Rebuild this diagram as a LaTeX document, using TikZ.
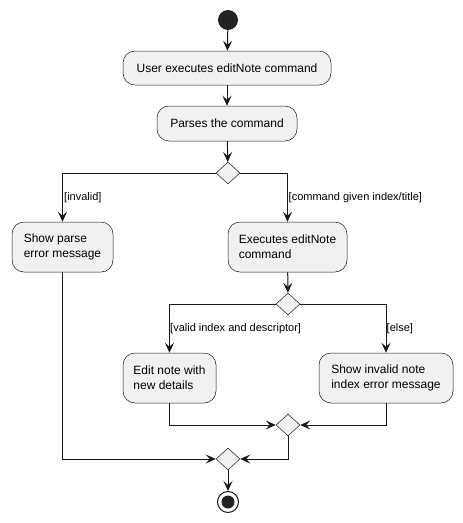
\documentclass[tikz,border=0pt]{standalone}
\usepackage{fontspec}
\setmainfont{Liberation Sans}
\usetikzlibrary{arrows.meta,shapes.geometric}
\definecolor{boxfill}{HTML}{F1F1F1}
\definecolor{ink}{HTML}{181818}
\definecolor{dot}{HTML}{222222}
\begin{document}
\begin{tikzpicture}[x=1pt,y=-1pt,
  act/.style={draw=ink,line width=0.5pt,fill=boxfill,rounded corners=12pt,align=left,
    inner sep=0pt,font=\fontsize{12}{15}\selectfont,text=black},
  dec/.style={draw=ink,line width=0.5pt,fill=boxfill,diamond,minimum width=24pt,minimum height=22pt,inner sep=0pt},
  flow/.style={draw=ink,line width=1pt,-{Stealth[length=10pt,width=9pt,inset=4pt]}},
  guard/.style={anchor=west,font=\fontsize{11}{13}\selectfont,inner sep=0pt,text=black}]
\useasboundingbox (0,0) rectangle (463,523);
\node[circle,fill=dot,minimum size=20pt,inner sep=0pt] (start) at (228,20) {};
\node[act,minimum width=208pt,minimum height=34pt] (user) at (227,68) {User executes editNote command};
\node[act,minimum width=140pt,minimum height=35pt] (parses) at (227,123.5) {Parses the command};
\node[dec] (d1) at (228,173) {};
\node[act,minimum width=101pt,minimum height=50pt] (showparse) at (62.5,247) {Show parse\\error message};
\node[act,minimum width=119pt,minimum height=50pt] (exec) at (287.5,247) {Executes editNote\\command};
\node[dec] (d2) at (288,304) {};
\node[act,minimum width=93pt,minimum height=50pt] (edit) at (169.5,378) {Edit note with\\new details};
\node[act,minimum width=134pt,minimum height=50pt] (inval) at (386,378) {Show invalid note\\index error message};
\node[dec] (m1) at (288,425) {};
\node[dec] (m2) at (228,459) {};
\node[circle,draw=ink,line width=1pt,fill=white,minimum size=21pt,inner sep=0pt] (end) at (228,502) {};
\node[circle,fill=dot,minimum size=13pt,inner sep=0pt] (enddot) at (end.center) {};

\node[guard] (ginvalid) at (64,198) {[invalid]};
\node[guard] (gcmd) at (288.5,198) {[command given index/title]};
\node[guard] (gvalid) at (170,329) {[valid index and descriptor]};
\node[guard] (gelse) at (386.5,329) {[else]};

\draw[flow] (start) -- (user);
\draw[flow] (user) -- (parses);
\draw[flow] (parses) -- (d1);
\draw[flow] (d1.west) -| (showparse.north);
\draw[flow] (d1.east) -| (exec.north);
\draw[flow] (exec) -- (d2);
\draw[flow] (d2.west) -| (edit.north);
\draw[flow] (d2.east) -| (inval.north);
\draw[flow] (edit.south) |- (m1.west);
\draw[flow] (inval.south) |- (m1.east);
\draw[flow] (showparse.south) |- (m2.west);
\draw[flow] (m1.south) |- (m2.east);
\draw[flow] (m2) -- (end);
\end{tikzpicture}
\end{document}
